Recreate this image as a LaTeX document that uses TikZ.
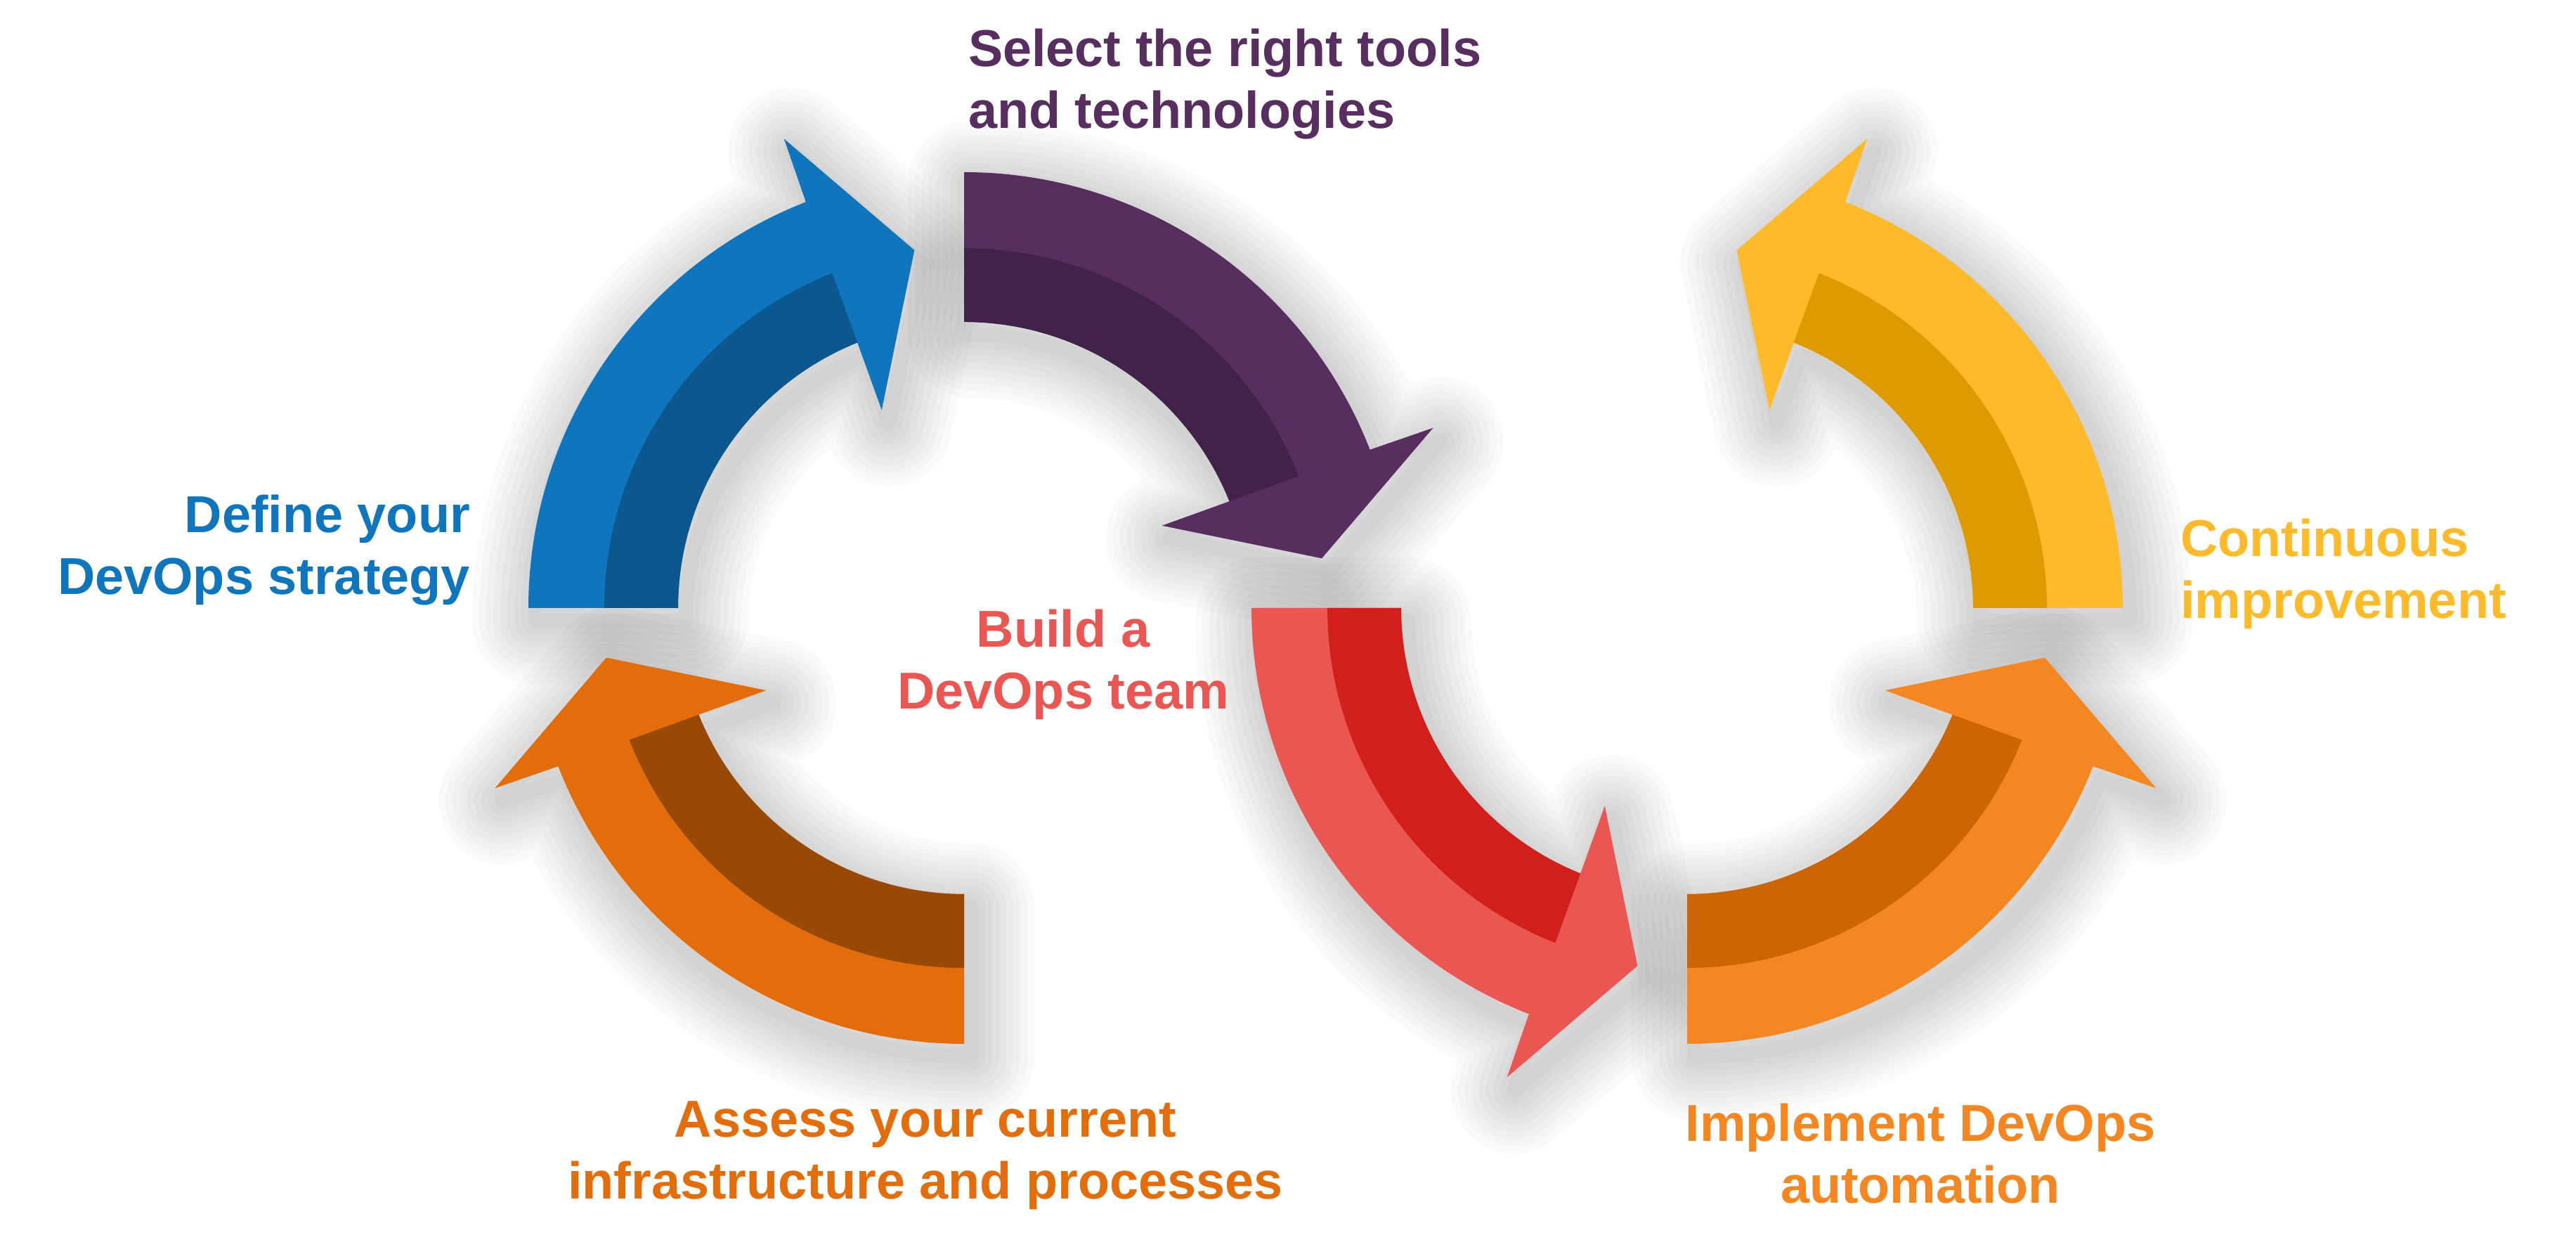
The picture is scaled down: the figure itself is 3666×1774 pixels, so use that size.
\documentclass[tikz,border=0pt]{standalone}
\usepackage{fontspec}
\setmainfont{Liberation Sans}

\definecolor{blueL}{HTML}{0F75BC}
\definecolor{blueD}{HTML}{0C578D}
\definecolor{purpL}{HTML}{582E60}
\definecolor{purpD}{HTML}{41234A}
\definecolor{ornL}{HTML}{E36D0B}
\definecolor{ornD}{HTML}{994906}
\definecolor{redL}{HTML}{EA5753}
\definecolor{redD}{HTML}{D21F1B}
\definecolor{orn2L}{HTML}{F48722}
\definecolor{orn2D}{HTML}{CB6506}
\definecolor{yelL}{HTML}{FDBB2B}
\definecolor{yelD}{HTML}{DD9B00}

\newcommand\cycangles[2]{%
  \pgfmathsetmacro\aS{#1}%
  \pgfmathsetmacro\aO{#1+(#2)*68.7}%
  \pgfmathsetmacro\aM{#1+(#2)*68.5}%
  \pgfmathsetmacro\aI{#1+(#2)*68.1}%
  \pgfmathsetmacro\aB{#1+(#2)*69.0}%
  \pgfmathsetmacro\aC{#1+(#2)*67.4}%
  \pgfmathsetmacro\aT{#1+(#2)*82.1}%
}
% #1,#2 centre, #3 start angle, #4 direction (+1 ccw, -1 cw)
\newcommand\cycshadow[4]{%
  \begin{scope}[shift={(#1,#2)}]
    \cycangles{#3}{#4}%
    \foreach \w in {20,40,...,180}{%
      \path[draw=black,draw opacity=0.018,
        line width=\w*0.01cm,line join=round,shift={(10,-18)}]
        (\aS:620) arc[start angle=\aS,end angle=\aO,radius=620]
        -- (\aB:715) -- (\aT:514) -- (\aC:305) -- (\aI:407)
        arc[start angle=\aI,end angle=\aS,radius=407] -- cycle;
    }
  \end{scope}}
% #5 light colour, #6 dark colour
\newcommand\cycbody[6]{%
  \begin{scope}[shift={(#1,#2)}]
    \cycangles{#3}{#4}%
    \fill[#5]
      (\aS:620) arc[start angle=\aS,end angle=\aO,radius=620]
      -- (\aB:715) -- (\aT:514) -- (\aC:305) -- (\aI:407)
      arc[start angle=\aI,end angle=\aS,radius=407] -- cycle;
    \fill[#6]
      (\aS:512) arc[start angle=\aS,end angle=\aM,radius=512]
      -- (\aI:407)
      arc[start angle=\aI,end angle=\aS,radius=407] -- cycle;
  \end{scope}}

\tikzset{
  lbl/.style={inner sep=0pt,outer sep=0pt,font=\bfseries\fontsize{21}{25}\selectfont}
}

\begin{document}
\begin{tikzpicture}[x=0.01cm,y=0.01cm]
\useasboundingbox (0,0) rectangle (3666,1774);
\fill[white] (0,0) rectangle (3666,1774);

% shadows first
\cycshadow{1372}{909}{180}{-1}
\cycshadow{1372}{909}{90}{-1}
\cycshadow{1372}{909}{270}{-1}
\cycshadow{2401}{909}{180}{1}
\cycshadow{2401}{909}{270}{1}
\cycshadow{2401}{909}{0}{1}

% arrows
\cycbody{1372}{909}{180}{-1}{blueL}{blueD}
\cycbody{1372}{909}{90}{-1}{purpL}{purpD}
\cycbody{1372}{909}{270}{-1}{ornL}{ornD}
\cycbody{2401}{909}{180}{1}{redL}{redD}
\cycbody{2401}{909}{270}{1}{orn2L}{orn2D}
\cycbody{2401}{909}{0}{1}{yelL}{yelD}

% labels
\node[lbl,text=purpL,anchor=base west] (select) at (1378,1679)
  {\begin{tabular}[t]{@{}l@{}}Select the right tools\\and technologies\end{tabular}};
\node[lbl,text=blueL,anchor=base east] (define) at (669,1016)
  {\begin{tabular}[t]{@{}r@{}}Define your\\DevOps strategy\end{tabular}};
\node[lbl,text=redL,anchor=base] (build) at (1513,853)
  {\begin{tabular}[t]{@{}c@{}}Build a\\DevOps team\end{tabular}};
\node[lbl,text=yelL,anchor=base west] (cont) at (3103,982)
  {\begin{tabular}[t]{@{}l@{}}Continuous\\improvement\end{tabular}};
\node[lbl,text=ornL,anchor=base] (assess) at (1317,156)
  {\begin{tabular}[t]{@{}c@{}}Assess your current\\infrastructure and processes\end{tabular}};
\node[lbl,text=orn2L,anchor=base] (impl) at (2733,150)
  {\begin{tabular}[t]{@{}c@{}}Implement DevOps\\automation\end{tabular}};
\end{tikzpicture}
\end{document}
